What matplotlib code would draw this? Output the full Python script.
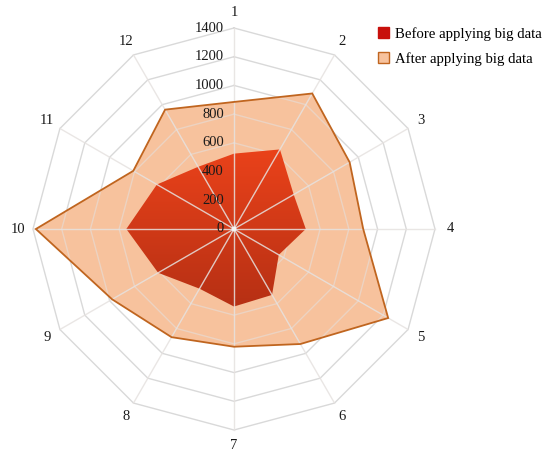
import numpy as np
import matplotlib
matplotlib.use("Agg")
import matplotlib.pyplot as plt
from matplotlib.patches import Polygon, Patch, Circle

# Data
categories = ['1', '2', '3', '4', '5', '6', '7', '8', '9', '10', '11', '12']
before_values = [525, 640, 480, 500, 360, 530, 540, 480, 610, 750, 620, 500]
after_values = [885, 1090, 930, 900, 1240, 925, 820, 870, 980, 1380, 810, 960]
radial_ticks = [0, 200, 400, 600, 800, 1000, 1200, 1400]
series_names = ['Before applying big data', 'After applying big data']

plt.rcParams['font.family'] = ['Liberation Serif', 'DejaVu Serif']

W, H, DPI = 545, 453, 100
fig = plt.figure(figsize=(W / DPI, H / DPI), dpi=DPI)
ax = fig.add_axes([0, 0, 1, 1])
ax.set_axis_off()

# center of the radar in pixels and pixel radius of the outer ring
cx, cy, rpx = 234.0, 229.0, 201.0
rmax = radial_ticks[-1]
k = rmax / rpx
ax.set_xlim(-cx * k, (W - cx) * k)
ax.set_ylim(-(H - cy) * k, cy * k)
ax.set_aspect('equal')

n = len(categories)
ang = np.deg2rad(np.arange(n) * 360.0 / n)
ux, uy = np.sin(ang), np.cos(ang)


def pts(vals):
    v = np.asarray(vals, dtype=float)
    return np.column_stack([v * ux, v * uy])


def ring_xy(t):
    r = pts([t] * n)
    return np.vstack([r, r[:1]])


grid_col = '#d9d9d9'

# rings
for t in radial_ticks[1:]:
    r = ring_xy(t)
    ax.plot(r[:, 0], r[:, 1], color=grid_col, lw=1.0, zorder=1)

# after series
ap = pts(after_values)
after_poly = Polygon(ap, closed=True, facecolor='#f7c29d',
                     edgecolor='none', zorder=2)
ax.add_patch(after_poly)

# rings showing through the orange fill
after_clip = Polygon(ap, closed=True, facecolor='none', edgecolor='none')
ax.add_patch(after_clip)
for t in radial_ticks[1:]:
    r = ring_xy(t)
    ln, = ax.plot(r[:, 0], r[:, 1], color='#ecd3c2', lw=1.0, zorder=2.5)
    ln.set_clip_path(after_clip)

after_edge = Polygon(ap, closed=True, facecolor='none',
                     edgecolor='#c0651f', lw=1.3, zorder=5)
ax.add_patch(after_edge)

# before series with a vertical gradient
bp = pts(before_values)
before_clip = Polygon(bp, closed=True, facecolor='none', edgecolor='none')
ax.add_patch(before_clip)
ymin, ymax = bp[:, 1].min(), bp[:, 1].max()
xmin, xmax = bp[:, 0].min(), bp[:, 0].max()
top_c = np.array([234, 66, 26]) / 255.0
bot_c = np.array([182, 48, 20]) / 255.0
g = np.linspace(0, 1, 256)[:, None]
grad = (top_c[None, :] * (1 - g) + bot_c[None, :] * g)[:, None, :]
grad = np.repeat(grad, 2, axis=1)
im = ax.imshow(grad, extent=[xmin, xmax, ymin, ymax], origin='upper',
               aspect='auto', zorder=3, interpolation='bilinear')
im.set_clip_path(before_clip)

# spokes on top
for i in range(n):
    ax.plot([0, rmax * ux[i]], [0, rmax * uy[i]], color='#e6e2e0', lw=1.0,
            alpha=0.85, zorder=4)
ax.add_patch(Circle((0, 0), 2.5 * k, facecolor='#f4f4f4', edgecolor='none', zorder=6))

# radial tick labels
for t in radial_ticks:
    ax.text(-10 * k, t, str(t), ha='right', va='center', fontsize=10.5,
            color='#1a1a1a', zorder=7)

# category labels
lab_r = rmax * 1.075
for i, c in enumerate(categories):
    ax.text(lab_r * ux[i], lab_r * uy[i], c, ha='center', va='center',
            fontsize=10.5, color='#1a1a1a', zorder=7)

handles = [Patch(facecolor='#c8100c', edgecolor='#c8100c', label=series_names[0]),
           Patch(facecolor='#f7c29d', edgecolor='#c0651f', label=series_names[1])]
fig.legend(handles=handles, loc='upper left', bbox_to_anchor=(378 / W, 1 - 27 / H),
           frameon=False, fontsize=10.6, handlelength=0.75, handleheight=0.75,
           handletextpad=0.4, labelspacing=0.75, borderaxespad=0, borderpad=0)

fig.savefig('out.png', dpi=DPI)
